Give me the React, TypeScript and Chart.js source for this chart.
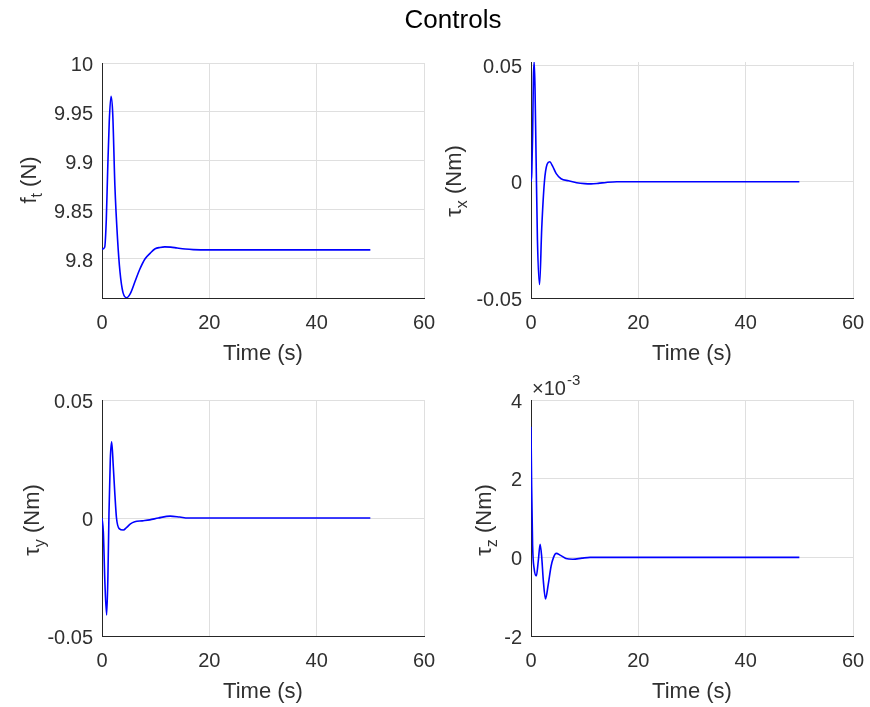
import React, { useEffect, useRef } from 'react';
import { Chart, registerables } from 'chart.js';

Chart.register(...registerables);

// ---------- data ----------
const chartTitle = 'Controls';
const xTitle = 'Time (s)';
const xTicks = [0, 20, 40, 60];
const xTickLabels = ['0', '20', '40', '60'];

const timeFt = [0, 0.5, 0.8, 1.05, 1.35, 1.68, 2.0, 2.4, 2.9, 3.35, 3.9, 4.6, 5.3, 6.15, 7.0, 8.0, 9.0, 9.9, 10.8, 11.7, 12.8, 14.0, 15.5, 17.0, 20, 30, 40, 50];
const valuesFt = [9.81, 9.812, 9.84, 9.889, 9.94, 9.966, 9.948, 9.875, 9.82, 9.787, 9.766, 9.7605, 9.765, 9.777, 9.789, 9.8, 9.806, 9.8104, 9.8118, 9.8124, 9.8121, 9.8112, 9.8102, 9.8096, 9.8093, 9.8093, 9.8093, 9.8093];
const ftTicks = [9.8, 9.85, 9.9, 9.95, 10];
const ftTickLabels = ['9.8', '9.85', '9.9', '9.95', '10'];

const timeTx = [0, 0.15, 0.3, 0.45, 0.6, 0.75, 0.95, 1.2, 1.6, 2.0, 2.5, 3.0, 3.5, 4.0, 4.7, 5.6, 7.0, 8.5, 10, 11.2, 12.5, 14, 16, 20, 30, 50];
const valuesTx = [0, 0.004, 0.02, 0.045, 0.0515, 0.04, 0.01, -0.025, -0.0442, -0.02, 0, 0.0075, 0.0086, 0.0068, 0.0035, 0.0013, 0.0004, -0.0004, -0.0008, -0.0009, -0.0007, -0.0003, 0, 0, 0, 0];

const timeTy = [0, 0.25, 0.55, 0.87, 1.1, 1.3, 1.55, 1.8, 2.1, 2.4, 2.7, 3.2, 3.97, 4.6, 5.3, 6.1, 7.5, 8.9, 10.5, 12.7, 14.5, 16, 20, 30, 50];
const valuesTy = [0, -0.006, -0.028, -0.0411, -0.025, 0.002, 0.025, 0.0323, 0.022, 0.01, 0, -0.0045, -0.0051, -0.004, -0.0025, -0.0016, -0.0012, -0.0008, 0, 0.0008, 0.0004, 0, 0, 0, 0];

const tauTicks = [-0.05, 0, 0.05];
const tauTickLabels = ['-0.05', '0', '0.05'];

const timeTz = [0, 0.12, 0.3, 0.6, 1.0, 1.35, 1.7, 2.0, 2.3, 2.7, 3.2, 3.75, 4.2, 4.7, 5.5, 6.5, 7.8, 9.5, 11, 20, 30, 50];
const valuesTz = [0.00332, 0.0018, 0.0003, -0.0003, -0.00047, -0.0001, 0.00033, 0.0, -0.0006, -0.00106, -0.0007, -0.00022, 0.0, 0.0001, 0.00005, -0.00003, -0.00005, -0.00002, 0, 0, 0, 0];
const tauZTicks = [-0.002, 0, 0.002, 0.004];
const tauZTickLabels = ['-2', '0', '2', '4'];

// ---------- style ----------
const W = 870;
const H = 707;
const Y_AXIS_W = 100;
const X_AXIS_H = 72;
const FONT = "'Liberation Sans', Arial, Helvetica, sans-serif";
const TICK_SIZE = 20;
const LABEL_SIZE = 22;
const TITLE_SIZE = 26;
const TEXT_COLOR = '#303030';
const GRID_COLOR = '#dfdfdf';
const LINE_COLOR = '#0000ff';

type Spec = {
  times: number[];
  values: number[];
  yMin: number;
  yMax: number;
  yTicks: number[];
  yLabels: string[];
  area: { l: number; r: number; t: number; b: number };
  yTitle: { main: string; sub: string; unit: string; x: number; y: number };
  exponent?: { x: number; y: number; base: string; power: string };
  title?: { text: string; x: number; y: number };
};

const specs: Spec[] = [
  {
    times: timeFt, values: valuesFt, yMin: 9.7602, yMax: 10, yTicks: ftTicks, yLabels: ftTickLabels,
    area: { l: 102, r: 424, t: 63, b: 298 },
    yTitle: { main: 'f', sub: 't', unit: ' (N)', x: 36, y: 180 },
    title: { text: chartTitle, x: 453, y: 21 },
  },
  {
    times: timeTx, values: valuesTx, yMin: -0.05, yMax: 0.0515, yTicks: tauTicks, yLabels: tauTickLabels,
    area: { l: 531, r: 853, t: 62, b: 298 },
    yTitle: { main: 'τ', sub: 'x', unit: ' (Nm)', x: 461, y: 181 },
  },
  {
    times: timeTy, values: valuesTy, yMin: -0.05, yMax: 0.05, yTicks: tauTicks, yLabels: tauTickLabels,
    area: { l: 102, r: 424, t: 400, b: 636 },
    yTitle: { main: 'τ', sub: 'y', unit: ' (Nm)', x: 39, y: 520 },
  },
  {
    times: timeTz, values: valuesTz, yMin: -0.002, yMax: 0.004, yTicks: tauZTicks, yLabels: tauZTickLabels,
    area: { l: 531, r: 853, t: 400, b: 636 },
    yTitle: { main: 'τ', sub: 'z', unit: ' (Nm)', x: 491, y: 520 },
    exponent: { x: 532, y: 389, base: '×10', power: '-3' },
  },
];

function makeTextPlugin(spec: Spec) {
  return {
    id: 'extraText',
    afterDraw(chart: any) {
      const ctx: CanvasRenderingContext2D = chart.ctx;
      ctx.save();
      ctx.fillStyle = TEXT_COLOR;
      // rotated y-axis title with subscript
      const yt = spec.yTitle;
      const mainFont = `${LABEL_SIZE}px ${FONT}`;
      const subFont = `${Math.round(LABEL_SIZE * 0.72)}px ${FONT}`;
      ctx.font = mainFont;
      const mw = ctx.measureText(yt.main).width;
      const uw = ctx.measureText(yt.unit).width;
      ctx.font = subFont;
      const sw = ctx.measureText(yt.sub).width;
      const total = mw + sw + uw;
      ctx.translate(yt.x, yt.y);
      ctx.rotate(-Math.PI / 2);
      ctx.textBaseline = 'alphabetic';
      ctx.textAlign = 'left';
      let px = -total / 2;
      ctx.font = mainFont;
      ctx.fillText(yt.main, px, 0);
      px += mw;
      ctx.font = subFont;
      ctx.fillText(yt.sub, px, LABEL_SIZE * 0.28);
      px += sw;
      ctx.font = mainFont;
      ctx.fillText(yt.unit, px, 0);
      ctx.setTransform(1, 0, 0, 1, 0, 0);
      if (spec.exponent) {
        const e = spec.exponent;
        ctx.font = `${TICK_SIZE}px ${FONT}`;
        ctx.textBaseline = 'middle';
        ctx.textAlign = 'left';
        ctx.fillText(e.base, e.x, e.y);
        const bw = ctx.measureText(e.base).width;
        ctx.font = `${Math.round(TICK_SIZE * 0.75)}px ${FONT}`;
        ctx.fillText(e.power, e.x + bw + 1, e.y - 8);
      }
      if (spec.title) {
        ctx.font = `${TITLE_SIZE}px ${FONT}`;
        ctx.fillStyle = '#000000';
        ctx.textAlign = 'center';
        ctx.textBaseline = 'middle';
        ctx.fillText(spec.title.text, spec.title.x, spec.title.y);
      }
      ctx.restore();
    },
  };
}

function SubPlot({ spec }: { spec: Spec }) {
  const ref = useRef<HTMLCanvasElement | null>(null);
  useEffect(() => {
    if (!ref.current) return;
    const a = spec.area;
    const chart = new Chart(ref.current, {
      type: 'line',
      data: {
        datasets: [
          {
            data: spec.times.map((t, i) => ({ x: t, y: spec.values[i] })),
            borderColor: LINE_COLOR,
            borderWidth: 1.6,
            pointRadius: 0,
            fill: false,
            cubicInterpolationMode: 'monotone',
          },
        ],
      },
      options: {
        responsive: false,
        animation: false,
        events: [],
        layout: {
          padding: {
            left: a.l - Y_AXIS_W,
            right: W - a.r,
            top: a.t,
            bottom: H - a.b - X_AXIS_H,
          },
        },
        plugins: {
          legend: { display: false },
          tooltip: { enabled: false },
          title: { display: false },
        },
        scales: {
          x: {
            type: 'linear',
            min: 0,
            max: 60,
            afterFit: (s: any) => {
              s.height = X_AXIS_H;
              s.paddingLeft = 0;
              s.paddingRight = 0;
            },
            afterBuildTicks: (s: any) => { s.ticks = xTicks.map((v) => ({ value: v })); },
            ticks: {
              autoSkip: false,
              maxRotation: 0,
              padding: 13,
              color: TEXT_COLOR,
              font: { family: FONT, size: TICK_SIZE },
              callback: (_v: any, i: number) => xTickLabels[i],
            },
            grid: { color: GRID_COLOR, lineWidth: 1, drawTicks: false },
            border: { display: true, color: '#262626', width: 1 },
            title: {
              display: true,
              text: xTitle,
              color: TEXT_COLOR,
              font: { family: FONT, size: LABEL_SIZE },
              padding: { top: 0, bottom: 3 },
            },
          },
          y: {
            type: 'linear',
            min: spec.yMin,
            max: spec.yMax,
            afterFit: (s: any) => {
              s.width = Y_AXIS_W;
              s.paddingTop = 0;
              s.paddingBottom = 0;
            },
            afterBuildTicks: (s: any) => { s.ticks = spec.yTicks.map((v) => ({ value: v })); },
            ticks: {
              autoSkip: false,
              padding: 9,
              labelOffset: 2,
              color: TEXT_COLOR,
              font: { family: FONT, size: TICK_SIZE },
              callback: (_v: any, i: number) => spec.yLabels[i],
            },
            grid: { color: GRID_COLOR, lineWidth: 1, drawTicks: false },
            border: { display: true, color: '#262626', width: 1 },
          },
        },
      },
      plugins: [makeTextPlugin(spec)],
    } as any);
    return () => chart.destroy();
  }, [spec]);
  return (
    <canvas
      ref={ref}
      width={W}
      height={H}
      style={{ position: 'absolute', left: 0, top: 0, width: W, height: H, pointerEvents: 'none' }}
    />
  );
}

export default function App() {
  return (
    <div style={{ position: 'fixed', left: 0, top: 0, width: W, height: H, background: '#ffffff', overflow: 'hidden' }}>
      {specs.map((s, i) => (
        <SubPlot key={i} spec={s} />
      ))}
    </div>
  );
}
